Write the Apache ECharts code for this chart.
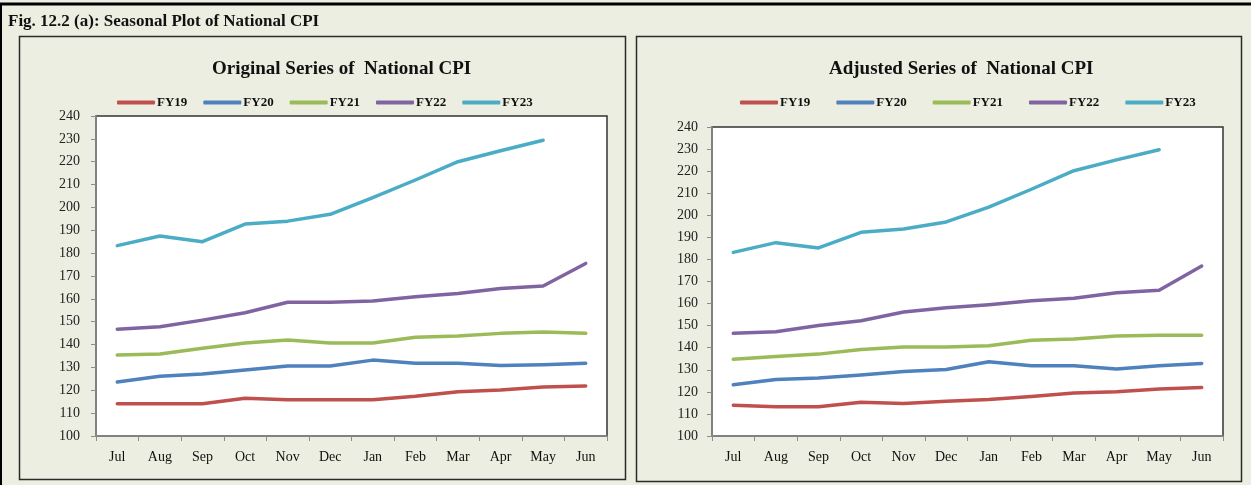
<!DOCTYPE html>
<html>
<head>
<meta charset="utf-8">
<script src="https://cdn.jsdelivr.net/npm/echarts@6/dist/echarts.min.js"></script>
<style>
  html, body { margin: 0; padding: 0; background: #ECEEE1; }
  #main { width: 1251px; height: 485px; }
</style>
</head>
<body>
<div id="main"></div>
<script>
// months of the fiscal year
var months = ['Jul', 'Aug', 'Sep', 'Oct', 'Nov', 'Dec', 'Jan', 'Feb', 'Mar', 'Apr', 'May', 'Jun'];
var years = ['FY19', 'FY20', 'FY21', 'FY22', 'FY23'];

// original series
var origFY19 = [114.1, 114.1, 114.1, 116.5, 115.9, 115.9, 115.9, 117.4, 119.4, 120.1, 121.4, 121.9];
var origFY20 = [123.6, 126.1, 127.1, 128.9, 130.6, 130.6, 133.2, 131.8, 131.8, 130.8, 131.2, 131.8];
var origFY21 = [135.4, 135.9, 138.4, 140.7, 142.0, 140.7, 140.7, 143.2, 143.7, 144.9, 145.5, 144.9];
var origFY22 = [146.7, 147.8, 150.7, 153.9, 158.5, 158.5, 159.1, 160.9, 162.3, 164.5, 165.6, 175.5];
var origFY23 = [183.3, 187.5, 185.0, 192.7, 194.0, 197.0, 204.3, 212.0, 220.0, 224.8, 229.4, null];

// adjusted series
var adjFY19 = [113.9, 113.3, 113.3, 115.3, 114.7, 115.7, 116.5, 117.9, 119.5, 120.1, 121.3, 122.0];
var adjFY20 = [123.2, 125.6, 126.3, 127.6, 129.2, 130.1, 133.6, 131.8, 131.8, 130.4, 131.8, 132.9];
var adjFY21 = [134.8, 136.0, 137.1, 139.2, 140.3, 140.3, 140.9, 143.4, 144.0, 145.3, 145.7, 145.7];
var adjFY22 = [146.5, 147.2, 150.1, 152.2, 156.2, 158.1, 159.5, 161.3, 162.4, 164.9, 166.0, 177.0];
var adjFY23 = [183.2, 187.6, 185.2, 192.3, 193.8, 197.0, 203.7, 211.8, 220.2, 225.1, 229.7, null];

var colors = ['#C0504D', '#4F81BD', '#9BBB59', '#8064A2', '#4BACC6'];
var serif = '"Liberation Serif", "DejaVu Serif", serif';

var origData = [origFY19, origFY20, origFY21, origFY22, origFY23];
var adjData = [adjFY19, adjFY20, adjFY21, adjFY22, adjFY23];

function makeXAxis(idx) {
    return {
        type: 'category',
        gridIndex: idx,
        data: months,
        boundaryGap: true,
        axisLine: { lineStyle: { color: '#8c8c8c', width: 1.5 } },
        axisTick: { show: true, length: 5, alignWithLabel: false, lineStyle: { color: '#8c8c8c' } },
        axisLabel: { color: '#111', fontFamily: serif, fontSize: 14, margin: 14 }
    };
}

function makeYAxis(idx, margin) {
    return {
        type: 'value',
        gridIndex: idx,
        min: 100,
        max: 240,
        interval: 10,
        splitLine: { show: false },
        axisLine: { show: true, lineStyle: { color: '#8c8c8c', width: 1.5 } },
        axisTick: { show: true, length: 5, lineStyle: { color: '#8c8c8c' } },
        axisLabel: { color: '#222', fontFamily: serif, fontSize: 14, margin: margin }
    };
}

function makeSeries(list, idx) {
    var out = [];
    for (var i = 0; i < years.length; i++) {
        out.push({
            name: years[i],
            type: 'line',
            xAxisIndex: idx,
            yAxisIndex: idx,
            data: list[i],
            showSymbol: false,
            symbol: 'none',
            connectNulls: false,
            lineStyle: { width: 3.5, color: colors[i], cap: 'round', join: 'round' },
            itemStyle: { color: colors[i] }
        });
    }
    return out;
}

function makeLegend(left, gap) {
    return {
        data: years,
        left: left,
        top: 91,
        itemWidth: 38,
        itemHeight: 4,
        itemGap: gap,
        icon: 'roundRect',
        textStyle: { fontFamily: serif, fontSize: 13, fontWeight: 'bold', color: '#111', padding: [0, 0, 0, -3] }
    };
}

var myChart = echarts.init(document.getElementById('main'));

var option = {
    backgroundColor: '#ECEEE1',
    animation: false,
    color: colors,
    title: [
        {
            text: 'Fig. 12.2 (a): Seasonal Plot of National CPI',
            left: 3, top: 8,
            textStyle: { fontFamily: serif, fontSize: 17, fontWeight: 'bold', color: '#111' }
        },
        {
            text: 'Original Series of  National CPI',
            left: 207, top: 55,
            textStyle: { fontFamily: serif, fontSize: 19, fontWeight: 'bold', color: '#111' }
        },
        {
            text: 'Adjusted Series of  National CPI',
            left: 824, top: 55,
            textStyle: { fontFamily: serif, fontSize: 19, fontWeight: 'bold', color: '#111' }
        }
    ],
    legend: [makeLegend(112, 16), makeLegend(735, 26)],
    grid: [
        { left: 96, top: 116, width: 511, height: 320, show: true, backgroundColor: '#fff', borderColor: '#333', borderWidth: 1.5 },
        { left: 712, top: 127, width: 511, height: 309, show: true, backgroundColor: '#fff', borderColor: '#333', borderWidth: 1.5 }
    ],
    xAxis: [makeXAxis(0), makeXAxis(1)],
    yAxis: [makeYAxis(0, 16), makeYAxis(1, 14)],
    graphic: [
        // outer frame
        { type: 'line', shape: { x1: 0, y1: 4, x2: 1251, y2: 4 }, style: { stroke: '#000', lineWidth: 3 } },
        { type: 'line', shape: { x1: 1, y1: 4, x2: 1, y2: 485 }, style: { stroke: '#000', lineWidth: 2 } },
        // panel borders
        { type: 'rect', shape: { x: 19.5, y: 36.5, width: 606, height: 443 }, style: { fill: null, stroke: '#2a2a2a', lineWidth: 1.5 }, z: -1 },
        { type: 'rect', shape: { x: 636.5, y: 36.5, width: 605, height: 445 }, style: { fill: null, stroke: '#2a2a2a', lineWidth: 1.5 }, z: -1 }
    ],
    series: makeSeries(origData, 0).concat(makeSeries(adjData, 1))
};

myChart.setOption(option);
</script>
</body>
</html>
